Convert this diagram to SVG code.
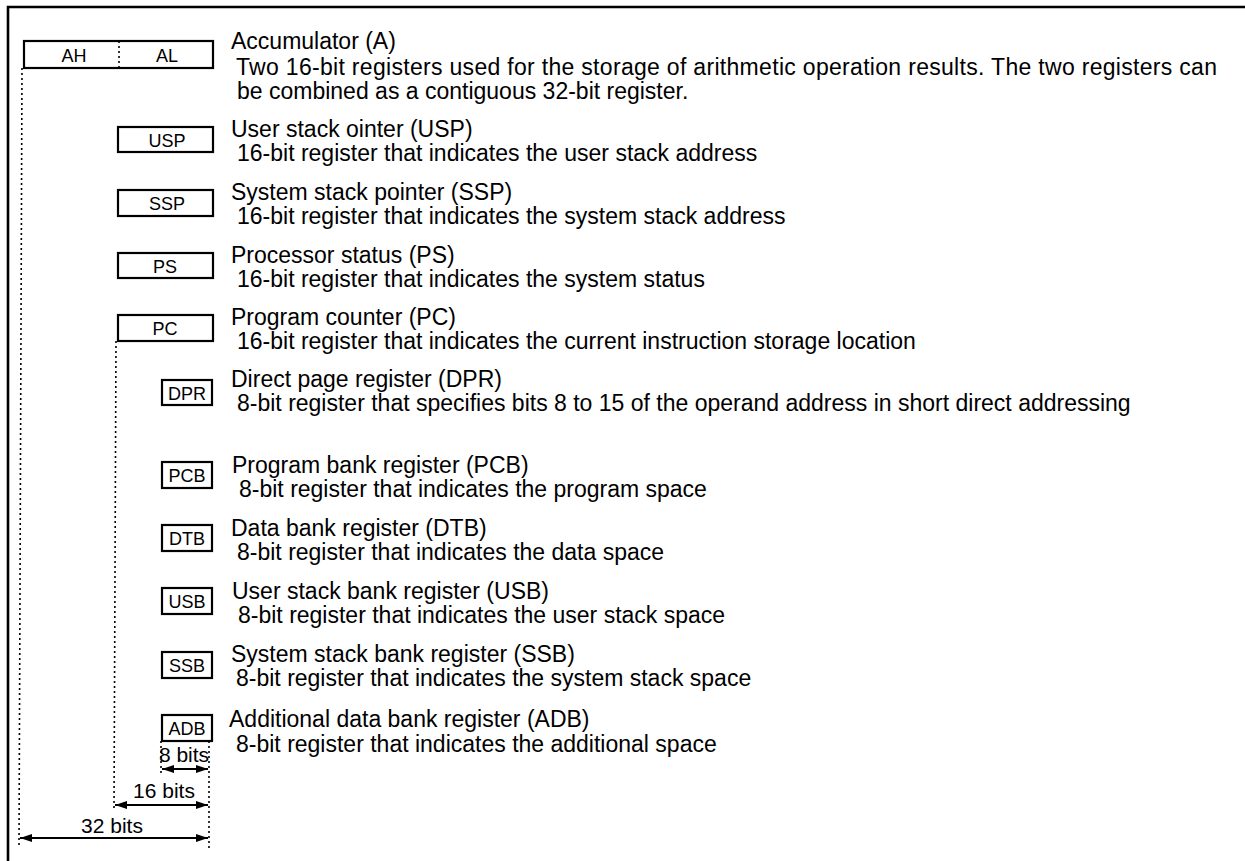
<svg xmlns="http://www.w3.org/2000/svg" width="1245" height="861" viewBox="0 0 1245 861">
<style>
.box{fill:#fff;stroke:#000;stroke-width:2.2}
.lbl{font-family:"Liberation Sans",Arial,sans-serif;font-size:18px;text-anchor:middle;fill:#000}
.t{font-family:"Liberation Sans",Arial,sans-serif;font-size:23px;fill:#000}
.dot{stroke:#000;stroke-width:1.6;stroke-dasharray:2 3;fill:none}
.dim{stroke:#000;stroke-width:1.8;fill:none}
.bt{font-family:"Liberation Sans",Arial,sans-serif;font-size:21px;text-anchor:middle;fill:#000}
.frame{stroke:#000;stroke-width:2.6;fill:none}
</style>
<defs>
<marker id="ah" viewBox="0 0 12 8" refX="12" refY="4" markerWidth="12" markerHeight="8" markerUnits="userSpaceOnUse" orient="auto-start-reverse">
<path d="M0,0 L12,4 L0,8 Z" fill="#000"/>
</marker>
</defs>
<rect width="1245" height="861" fill="#fff"/>
<path class="frame" d="M8,861 V7 H1245"/>

<g id="acc">
<rect class="box" x="24" y="41" width="189" height="27"/>
<line class="dot" x1="119" y1="41" x2="119" y2="68"/>
<text class="lbl" x="74" y="62">AH</text>
<text class="lbl" x="167" y="62">AL</text>
<text class="t" x="231" y="49">Accumulator (A)</text>
<text class="t" x="236" y="75" textLength="981" lengthAdjust="spacing">Two 16-bit registers used for the storage of arithmetic operation results.  The two registers can</text>
<text class="t" x="237" y="99">be combined as a contiguous 32-bit register.</text>
</g>

<g id="usp">
<rect class="box" x="118" y="127" width="95" height="25"/>
<text class="lbl" x="167" y="147">USP</text>
<text class="t" x="231" y="137">User stack ointer (USP)</text>
<text class="t" x="237" y="161">16-bit register that indicates the user stack address</text>
</g>

<g id="ssp">
<rect class="box" x="118" y="190" width="95" height="26"/>
<text class="lbl" x="167" y="210">SSP</text>
<text class="t" x="231" y="200">System stack pointer (SSP)</text>
<text class="t" x="237" y="224">16-bit register that indicates the system stack address</text>
</g>

<g id="ps">
<rect class="box" x="118" y="253" width="95" height="25"/>
<text class="lbl" x="165" y="273">PS</text>
<text class="t" x="231" y="263">Processor status (PS)</text>
<text class="t" x="237" y="287">16-bit register that indicates the system status</text>
</g>

<g id="pc">
<rect class="box" x="118" y="315" width="95" height="26"/>
<text class="lbl" x="165" y="335">PC</text>
<text class="t" x="231" y="325">Program counter (PC)</text>
<text class="t" x="237" y="349">16-bit register that indicates the current instruction storage location</text>
</g>

<g id="dpr">
<rect class="box" x="162" y="380" width="50" height="25"/>
<text class="lbl" x="187" y="400">DPR</text>
<text class="t" x="231" y="387">Direct page register (DPR)</text>
<text class="t" x="237" y="411">8-bit register that specifies bits 8 to 15 of the operand address in short direct addressing</text>
</g>

<g id="pcb">
<rect class="box" x="162" y="462" width="50" height="26"/>
<text class="lbl" x="187" y="482">PCB</text>
<text class="t" x="232" y="473">Program bank register (PCB)</text>
<text class="t" x="239" y="497">8-bit register that indicates the program space</text>
</g>

<g id="dtb">
<rect class="box" x="162" y="525" width="50" height="26"/>
<text class="lbl" x="187" y="545">DTB</text>
<text class="t" x="231" y="536">Data bank register (DTB)</text>
<text class="t" x="237" y="560">8-bit register that indicates the data space</text>
</g>

<g id="usb">
<rect class="box" x="162" y="588" width="50" height="26"/>
<text class="lbl" x="187" y="608">USB</text>
<text class="t" x="232" y="599">User stack bank register (USB)</text>
<text class="t" x="238" y="623">8-bit register that indicates the user stack space</text>
</g>

<g id="ssb">
<rect class="box" x="162" y="652" width="50" height="26"/>
<text class="lbl" x="187" y="672">SSB</text>
<text class="t" x="231" y="662">System stack bank register (SSB)</text>
<text class="t" x="236" y="686">8-bit register that indicates the system stack space</text>
</g>

<g id="adb">
<rect class="box" x="162" y="715" width="50" height="26"/>
<text class="lbl" x="187" y="735">ADB</text>
<text class="t" x="229" y="727">Additional data bank register (ADB)</text>
<text class="t" x="236" y="752">8-bit register that indicates the additional space</text>
</g>

<g id="connectors">
<line class="dot" x1="22" y1="68" x2="19" y2="848"/>
<line class="dot" x1="116" y1="341" x2="114" y2="810"/>
<line class="dot" x1="161" y1="741" x2="161" y2="776"/>
<line class="dot" x1="209" y1="741" x2="209" y2="848"/>
<line class="dim" x1="162" y1="769" x2="208" y2="769" marker-start="url(#ah)" marker-end="url(#ah)"/>
<line class="dim" x1="115" y1="805" x2="208" y2="805" marker-start="url(#ah)" marker-end="url(#ah)"/>
<line class="dim" x1="20" y1="838" x2="208" y2="838" marker-start="url(#ah)" marker-end="url(#ah)"/>
<text class="bt" x="184" y="762">8 bits</text>
<text class="bt" x="164" y="798">16 bits</text>
<text class="bt" x="112" y="833">32 bits</text>
</g>
</svg>
